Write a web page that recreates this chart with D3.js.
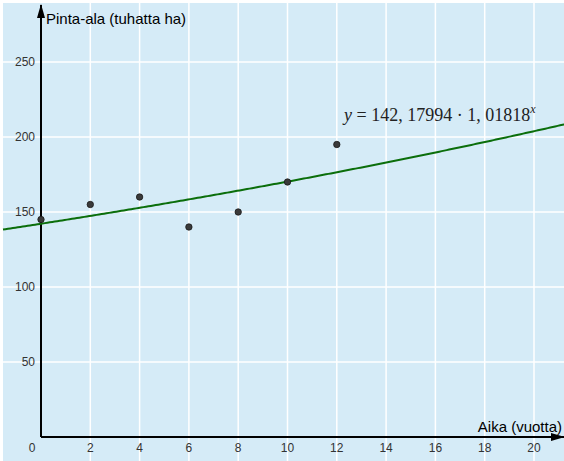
<!DOCTYPE html>
<html>
<head>
<meta charset="utf-8">
<script src="https://cdn.jsdelivr.net/npm/d3@7"></script>
<style>
  body { margin: 0; background: #fff; }
  svg { display: block; }
</style>
</head>
<body>
<script>
"use strict";
var svg_width = 564;
var svg_height = 461;

// data
var years = [0, 2, 4, 6, 8, 10, 12];
var areas = [145, 155, 160, 140, 150, 170, 195];
var x_ticks = [0, 2, 4, 6, 8, 10, 12, 14, 16, 18, 20];
var y_ticks = [50, 100, 150, 200, 250];
var fit_a = 142.17994;
var fit_b = 1.01818;

var xscale = d3.scaleLinear().domain([0, 20]).range([41, 534]);
var yscale = d3.scaleLinear().domain([0, 250]).range([437, 62]);

var svg = d3.select("body").append("svg")
    .attr("width", svg_width)
    .attr("height", svg_height);

// light blue plot area with a thin white margin top/left
svg.append("rect")
    .attr("x", 3).attr("y", 3)
    .attr("width", svg_width - 3).attr("height", svg_height - 3)
    .attr("fill", "#d5ebf7");

// grid
svg.selectAll("line.vgrid")
    .data(x_ticks.filter(function(d) { return d > 0; }))
    .enter().append("line")
    .attr("class", "vgrid")
    .attr("x1", function(d) { return xscale(d); })
    .attr("x2", function(d) { return xscale(d); })
    .attr("y1", 3).attr("y2", svg_height)
    .attr("stroke", "#fff").attr("stroke-width", 1.5);
svg.selectAll("line.hgrid")
    .data(y_ticks)
    .enter().append("line")
    .attr("class", "hgrid")
    .attr("x1", 3).attr("x2", svg_width)
    .attr("y1", function(d) { return yscale(d); })
    .attr("y2", function(d) { return yscale(d); })
    .attr("stroke", "#fff").attr("stroke-width", 1.5);

// arrow marker, long and narrow like the original
var defs = svg.append("defs");
defs.append("marker")
    .attr("id", "arrow")
    .attr("viewBox", "0 0 14 8")
    .attr("refX", 13).attr("refY", 4)
    .attr("markerWidth", 7).attr("markerHeight", 4)
    .attr("markerUnits", "strokeWidth")
    .attr("orient", "auto")
    .append("path")
    .attr("d", "M0,0 L14,4 L0,8 z")
    .attr("fill", "#000");

// axes
svg.append("line")
    .attr("x1", xscale(0)).attr("x2", xscale(0))
    .attr("y1", yscale(0)).attr("y2", 5)
    .attr("stroke", "#000").attr("stroke-width", 2)
    .attr("marker-end", "url(#arrow)");
svg.append("line")
    .attr("x1", xscale(0)).attr("x2", 564)
    .attr("y1", yscale(0)).attr("y2", yscale(0))
    .attr("stroke", "#000").attr("stroke-width", 2)
    .attr("marker-end", "url(#arrow)");

// tick labels
svg.selectAll("text.xtick")
    .data(x_ticks)
    .enter().append("text")
    .attr("class", "xtick")
    .attr("x", function(d) { return d == 0 ? xscale(0) - 9 : xscale(d); })
    .attr("y", 452)
    .attr("text-anchor", "middle")
    .attr("font-family", "Liberation Sans, Arial, sans-serif")
    .attr("font-size", 12)
    .attr("fill", "#333")
    .text(function(d) { return d; });
svg.selectAll("text.ytick")
    .data(y_ticks)
    .enter().append("text")
    .attr("class", "ytick")
    .attr("x", 35)
    .attr("y", function(d) { return yscale(d) + 4; })
    .attr("text-anchor", "end")
    .attr("font-family", "Liberation Sans, Arial, sans-serif")
    .attr("font-size", 12)
    .attr("fill", "#333")
    .text(function(d) { return d; });

// axis labels
svg.append("text")
    .attr("x", 46).attr("y", 24)
    .attr("font-family", "Liberation Sans, Arial, sans-serif")
    .attr("font-size", 15)
    .attr("fill", "#000")
    .text("Pinta-ala (tuhatta ha)");
svg.append("text")
    .attr("x", 562).attr("y", 432)
    .attr("text-anchor", "end")
    .attr("font-family", "Liberation Sans, Arial, sans-serif")
    .attr("font-size", 15)
    .attr("fill", "#000")
    .text("Aika (vuotta)");

// fitted curve
var curve_x = d3.range(xscale.invert(3), xscale.invert(svg_width) + 0.1, 0.1);
var line = d3.line()
    .x(function(d) { return xscale(d); })
    .y(function(d) { return yscale(fit_a * Math.pow(fit_b, d)); });
svg.append("path")
    .datum(curve_x)
    .attr("d", line)
    .attr("fill", "none")
    .attr("stroke", "#0b6e0b")
    .attr("stroke-width", 2);

// data points
svg.selectAll("circle")
    .data(years)
    .enter().append("circle")
    .attr("cx", function(d) { return xscale(d); })
    .attr("cy", function(d, i) { return yscale(areas[i]); })
    .attr("r", 3.2)
    .attr("fill", "#3a3a3a")
    .attr("stroke", "#1a1a1a")
    .attr("stroke-width", 0.8);

// equation
var eq = svg.append("text")
    .attr("x", 344).attr("y", 121)
    .attr("font-family", "Liberation Serif, DejaVu Serif, serif")
    .attr("font-size", 18)
    .attr("fill", "#222");
eq.append("tspan").attr("font-style", "italic").text("y");
eq.append("tspan").text(" = 142, 17994 \u00b7 1, 01818");
eq.append("tspan").attr("font-style", "italic").attr("font-size", 12).attr("dy", -8).text("x");
</script>
</body>
</html>
